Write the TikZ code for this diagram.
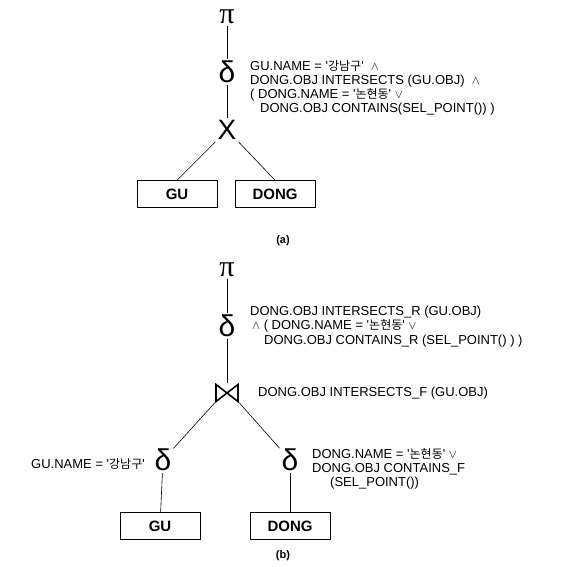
\documentclass[tikz,border=0pt]{standalone}
\usepackage{fontspec}
\setmainfont{Liberation Sans}
\newfontfamily\kr{Noto Sans CJK KR}
\newfontfamily\greek{Liberation Serif}
\usetikzlibrary{positioning}
\newcommand{\sq}{\textquotesingle}
\newcommand{\ko}[1]{{\kr\fontsize{12}{12}\selectfont #1}}

\begin{document}
\begin{tikzpicture}[x=1pt, y=-1pt,
  op/.style={inner sep=2pt, font=\greek\fontsize{30}{30}\selectfont},
  sel/.style={inner sep=2pt, font=\fontsize{30}{30}\selectfont},
  bowtie/.style={minimum width=24pt, minimum height=19pt, inner sep=0pt,
    path picture={\draw[line width=1.6pt, line join=miter]
      ([xshift=1pt,yshift=-1pt]path picture bounding box.north west) --
      ([xshift=-1pt,yshift=1pt]path picture bounding box.south east) --
      ([xshift=-1pt,yshift=-1pt]path picture bounding box.north east) --
      ([xshift=1pt,yshift=1pt]path picture bounding box.south west) -- cycle;}},
  rel/.style={draw, semithick, minimum width=80pt, minimum height=27pt, font=\fontsize{15}{15}\selectfont\bfseries},
  cond/.style={align=left, inner sep=0pt, font=\fontsize{13}{14.2}\selectfont},
  edge/.style={semithick},
  subcap/.style={font=\fontsize{11}{11}\selectfont\bfseries},
]
\useasboundingbox (0,0) rectangle (576,566);

% === (a) ===
\node[op] (pia) at (227,17) {π};
\node[sel] (dela) at (227,72) {δ};
\node[inner sep=2pt, font=\fontsize{28}{28}\selectfont] (crossa) at (227,130) {X};
\node[rel] (gua) at (177,194) {GU};
\node[rel] (donga) at (275,194) {DONG};
\draw[edge] (pia) -- (dela);
\draw[edge] (dela) -- (crossa);
\draw[edge] (crossa.south west) -- (gua.north);
\draw[edge] (crossa.south east) -- (donga.north);
\node[cond, anchor=north west] (conda) at (250,60)
  {GU.NAME = \sq\ko{강남구}\sq\ \ $\wedge$\\
   DONG.OBJ INTERSECTS (GU.OBJ) \ $\wedge$\\
   ( DONG.NAME = \sq\ko{논현동}\sq\ $\vee$\\
   \hspace*{10pt}DONG.OBJ CONTAINS(SEL\_POINT()) )};
\node[subcap] (capa) at (283,241) {(a)};

% === (b) ===
\node[op] (pib) at (227,270) {π};
\node[sel] (delb) at (227,326) {δ};
\node[bowtie] (join) at (227,393) {};
\node[sel] (dell) at (163,460) {δ};
\node[sel] (delr) at (290,460) {δ};
\node[rel] (gub) at (160,526) {GU};
\node[rel] (dongb) at (290,526) {DONG};
\draw[edge] (pib) -- (delb);
\draw[edge] (delb) -- (join);
\draw[edge] (join.south west) -- (dell);
\draw[edge] (join.south east) -- (delr);
\draw[edge] (dell) -- (gub);
\draw[edge] (delr) -- (dongb);
\node[cond, anchor=north west] (condb) at (250,306)
  {DONG.OBJ INTERSECTS\_R (GU.OBJ)\\
   \hspace*{2pt}$\wedge$ ( DONG.NAME = \sq\ko{논현동}\sq\ $\vee$\\
   \hspace*{14pt}DONG.OBJ CONTAINS\_R (SEL\_POINT() ) )};
\node[cond, anchor=west] (condj) at (258,393) {DONG.OBJ INTERSECTS\_F (GU.OBJ)};
\node[cond, anchor=east] (condl) at (145,464) {GU.NAME = \sq\ko{강남구}\sq};
\node[cond, anchor=north west] (condr) at (312,448)
  {DONG.NAME = \sq\ko{논현동}\sq\ $\vee$\\
   DONG.OBJ CONTAINS\_F\\
   \hspace*{18pt}(SEL\_POINT())};
\node[subcap] (capb) at (283,556) {(b)};
\end{tikzpicture}
\end{document}
